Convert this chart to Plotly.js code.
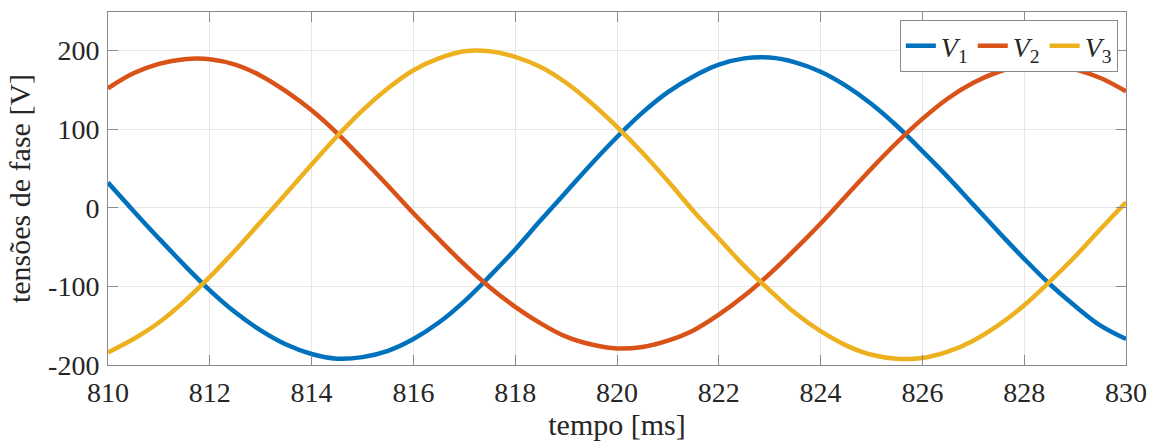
<!DOCTYPE html>
<html>
<head>
<meta charset="utf-8">
<script src="https://cdn.plot.ly/plotly-3.0.1.min.js"></script>
<style>
html,body{margin:0;padding:0;background:#fff;}
#chart{width:1156px;height:441px;}
</style>
</head>
<body>
<div id="chart"></div>
<script>
// time axis [ms]
const tempo = [810.0,810.5,811.0,811.5,812.0,812.5,813.0,813.5,814.0,814.5,
               815.0,815.5,816.0,816.5,817.0,817.5,818.0,818.5,819.0,819.5,
               820.0,820.5,821.0,821.5,822.0,822.5,823.0,823.5,824.0,824.5,
               825.0,825.5,826.0,826.5,827.0,827.5,828.0,828.5,829.0,829.5,830.0];
// phase voltages [V]
const v1 = [32,-4,-39,-73,-105,-133,-156,-174,-186,-192,
            -190,-182,-167,-146,-119,-87,-53,-16,20,56,
            90,121,147,167,182,190,191,185,173,155,
            132,104,72,39,4,-31,-65,-97,-125,-150,-167];
const v2 = [152,171,183,189,189,182,168,148,124,95,
            62,28,-7,-40,-72,-101,-126,-147,-164,-174,
            -179,-177,-169,-156,-136,-112,-84,-53,-20,15,
            50,83,113,139,159,173,181,182,176,165,148];
const v3 = [-184,-167,-146,-119,-88,-54,-18,18,55,91,
            124,152,175,190,199,199,192,179,159,133,
            103,70,34,-4,-39,-74,-105,-134,-157,-175,
            -187,-192,-191,-183,-169,-149,-124,-94,-62,-27,7];

const seriesNames = ['<i>V</i><sub>1</sub>','<i>V</i><sub>2</sub>','<i>V</i><sub>3</sub>'];
const seriesColors = ['#0072BD','#D95319','#EDB120'];

const xTickVals = [810,812,814,816,818,820,822,824,826,828,830];
const yTickVals = [-200,-100,0,100,200];
const yTickText = ['-200','-100','0','100','200'];

const FONT = 'Liberation Serif';
const TXT = '#262626';

const traces = [v1,v2,v3].map((v,i)=>({
  x: tempo, y: v, type:'scatter', mode:'lines',
  name: seriesNames[i],
  line:{color: seriesColors[i], width:4.5, shape:'spline', smoothing:1}
}));

function axisBase() {
  return {
    showline:true, linecolor:'#8a8a8a', linewidth:1, mirror:'ticks',
    ticks:'inside', ticklen:10, tickwidth:1, tickcolor:'#8a8a8a',
    showgrid:true, gridcolor:'#e6e6e6', gridwidth:1, zeroline:false,
    tickfont:{family:FONT, size:28, color:TXT}
  };
}

const layout = {
  width:1156, height:441,
  margin:{l:108, r:30, t:12, b:76},
  paper_bgcolor:'#fff', plot_bgcolor:'#fff',
  showlegend:true,
  font:{family:FONT, size:28, color:TXT},
  xaxis: Object.assign(axisBase(), {
    range:[810,830], tickvals:xTickVals, ticklabelstandoff:2,
    title:{text:'tempo [ms]', font:{family:FONT, size:30, color:TXT}, standoff:6}
  }),
  yaxis: Object.assign(axisBase(), {
    range:[-200,249], tickvals:yTickVals, ticktext:yTickText, ticklabelstandoff:2,
    title:{text:'tensões de fase [V]', font:{family:FONT, size:30, color:TXT}, standoff:8}
  }),
  legend:{
    orientation:'h', x:0.992, xanchor:'right', y:0.977, yanchor:'top',
    bgcolor:'#fff', bordercolor:'#8a8a8a', borderwidth:1,
    font:{family:FONT, size:28, color:TXT},
    itemwidth:30, tracegroupgap:0
  }
};

Plotly.newPlot('chart', traces, layout, {staticPlot:true, displayModeBar:false});
</script>
</body>
</html>
